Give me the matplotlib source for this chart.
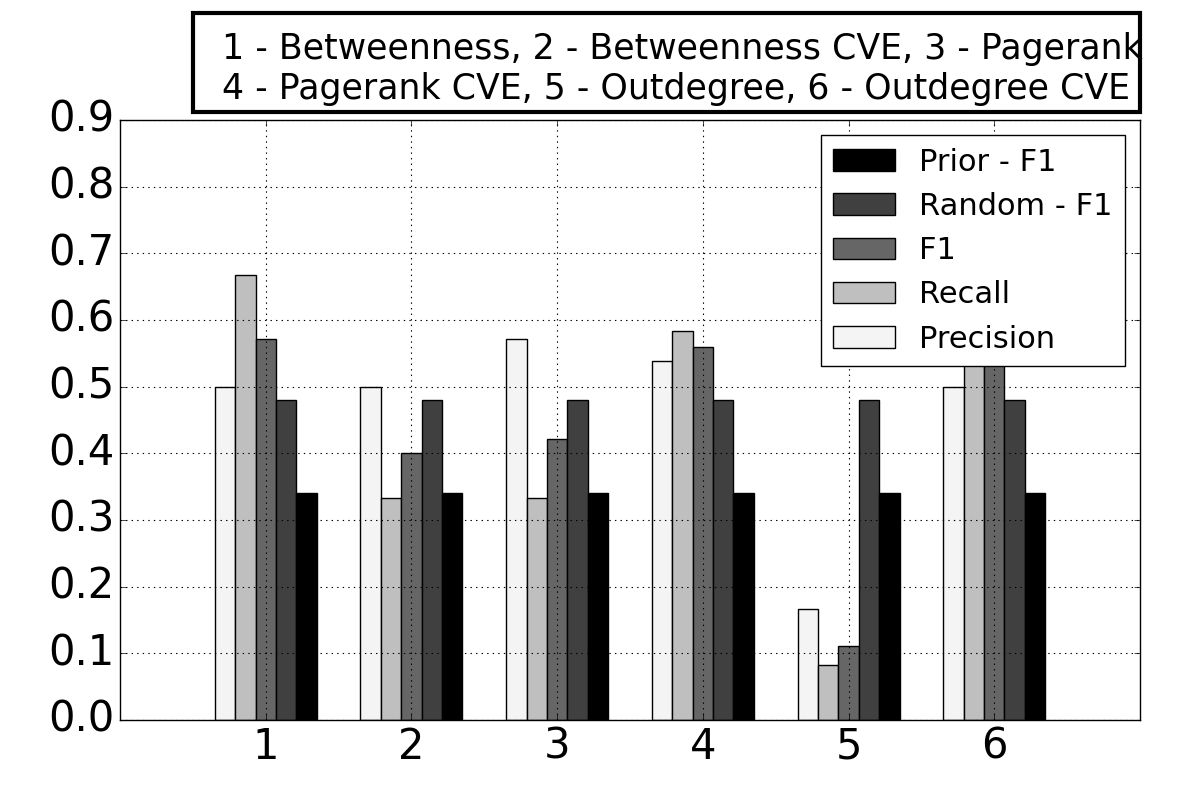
import matplotlib
matplotlib.use("Agg")
import matplotlib.pyplot as plt
from matplotlib.patches import Rectangle
import numpy as np

plt.style.use('classic')

groups = [1, 2, 3, 4, 5, 6]
precision = [0.5, 0.5, 0.571, 0.538, 0.167, 0.5]
recall = [0.667, 0.333, 0.333, 0.583, 0.083, 0.667]
f1 = [0.571, 0.4, 0.421, 0.56, 0.111, 0.571]
random_f1 = [0.48, 0.48, 0.48, 0.48, 0.48, 0.48]
prior_f1 = [0.34, 0.34, 0.34, 0.34, 0.34, 0.34]

series = [
    ("Precision", precision, "0.955"),
    ("Recall", recall, "0.75"),
    ("F1", f1, "0.4"),
    ("Random - F1", random_f1, "0.25"),
    ("Prior - F1", prior_f1, "0.0"),
]

fig = plt.figure(figsize=(12, 8), dpi=100, facecolor="white")
ax = fig.add_axes([0.1, 0.1, 0.85, 0.75])
ax.set_facecolor("white")

x = np.array(groups, dtype=float)
width = 0.14
for k, (name, vals, col) in enumerate(series):
    ax.bar(x - 0.35 + k * width, vals, width, align="edge", color=col,
           edgecolor="black", linewidth=1, label=name)

ax.set_xlim(0, 7)
ax.set_ylim(0, 0.9)
ax.set_xticks(groups)
ax.set_yticks(np.arange(0, 0.91, 0.1))
ax.set_yticklabels(["%.1f" % v for v in np.arange(0, 0.91, 0.1)])
ax.tick_params(labelsize=30)
ax.grid(True, linestyle=":", color="black", linewidth=0.8)

handles, labels = ax.get_legend_handles_labels()
leg = ax.legend(handles[::-1], labels[::-1], loc="upper right", fontsize=22,
                fancybox=False)
leg.get_frame().set_linewidth(1)

# top box with mapping text
fig.patches.append(Rectangle((193 / 1200, 1 - 112 / 800), (1140 - 193) / 1200, 99 / 800,
                             transform=fig.transFigure, fill=False,
                             edgecolor="black", linewidth=3))
fig.text(222 / 1200, 1 - 69 / 800,
         "1 - Betweenness, 2 - Betweenness CVE, 3 - Pagerank\n"
         "4 - Pagerank CVE, 5 - Outdegree, 6 - Outdegree CVE",
         fontsize=25, ha="left", va="center", linespacing=1.25)

fig.savefig("out.png", dpi=100, facecolor="white")
